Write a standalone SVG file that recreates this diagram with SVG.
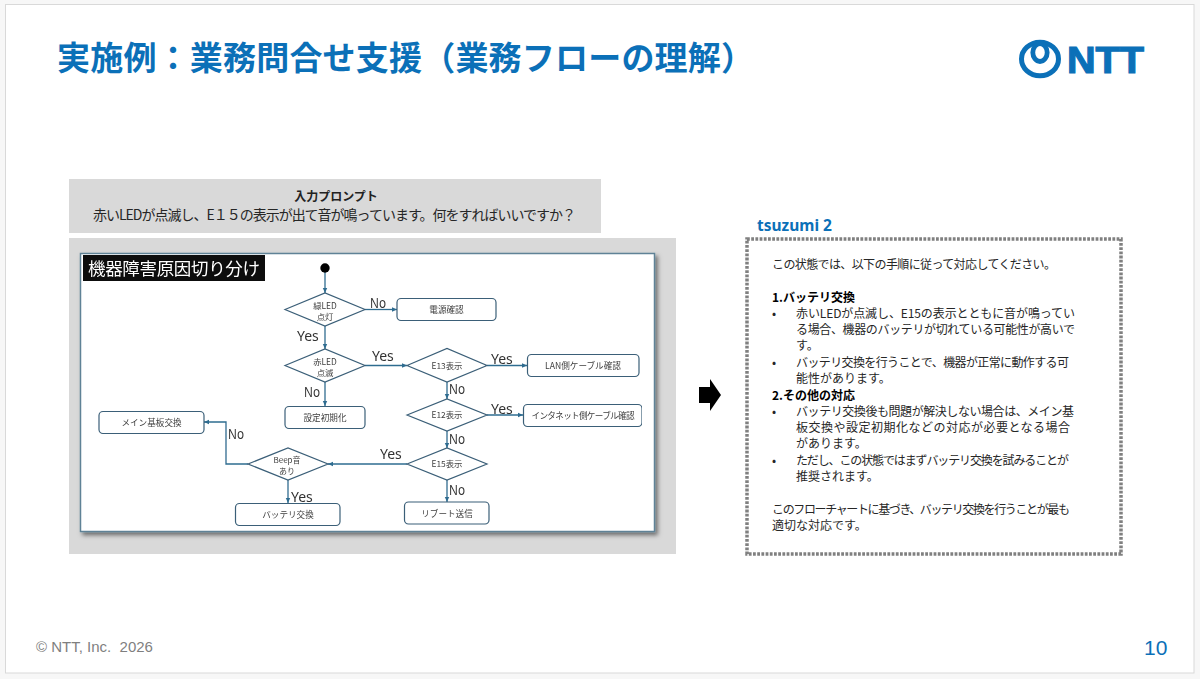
<svg xmlns="http://www.w3.org/2000/svg" width="1200" height="679" viewBox="0 0 1200 679">
<style>
text{font-family:"Noto Sans CJK JP","Noto Sans",sans-serif}
.blue{fill:#0b70b8}
.title{font-size:33px;font-weight:700}
.body{font-size:12px;fill:#262626}
.b{font-weight:700;fill:#000}
.node{fill:#fff;stroke:#3b5f78;stroke-width:1.2}
.nt{font-size:8.6px;fill:#404040;text-anchor:middle}
.dt{font-size:8.4px;fill:#404040;text-anchor:middle}
.lab{font-family:"Noto Sans",sans-serif;font-size:14px;fill:#333}
.con{fill:none;stroke:#2f6c90;stroke-width:1.3;marker-end:url(#ah)}
</style>
<defs>
<marker id="ah" markerUnits="userSpaceOnUse" markerWidth="6" markerHeight="6" refX="5" refY="3" orient="auto"><path d="M0 .8L5 3L0 5.2z" fill="#2f6c90"/></marker>
<filter id="sh" x="-5%" y="-5%" width="110%" height="110%"><feDropShadow dx="2.5" dy="3" stdDeviation="2" flood-color="#000" flood-opacity=".5"/></filter>
<filter id="soft" x="0" y="0" width="100%" height="100%"><feGaussianBlur stdDeviation=".3"/></filter>
</defs>
<rect width="1200" height="679" fill="#f7f7f7"/>
<rect x="5.500" y="4.500" width="1188.500" height="668.500" fill="#fff" stroke="#d9d9d9"/>
<text class="blue title" x="57" y="70" textLength="697">実施例：業務問合せ支援（業務フローの理解）</text>
<g id="logo">
<ellipse cx="1040" cy="59" rx="18.500" ry="16.800" fill="none" stroke="#0b70b8" stroke-width="5"/>
<ellipse cx="1040" cy="52.500" rx="7.200" ry="9" fill="#fff" stroke="#0b70b8" stroke-width="4.800"/>
<text x="1067" y="73" textLength="77" lengthAdjust="spacingAndGlyphs" stroke="#0b70b8" stroke-width="1.200" style="font-family:'Liberation Sans',sans-serif;font-weight:700;font-size:36.500px" class="blue">NTT</text>
</g>
<g id="prompt">
<rect x="69" y="179" width="532" height="54" fill="#d9d9d9"/>
<text x="336" y="200.500" text-anchor="middle" font-size="12" font-weight="700" fill="#222">入力プロンプト</text>
<text x="93" y="219.500" font-size="14" fill="#262626" textLength="483">赤いLEDが点滅し、E１５の表示が出て音が鳴っています。何をすればいいですか？</text>
</g>
<rect id="panel" x="69" y="238" width="607" height="316" fill="#d9d9d9"/>
<rect id="sheet" x="80.500" y="253.500" width="574" height="278" fill="#fff" stroke="#5f8296" stroke-width="1.500" filter="url(#sh)"/>
<g id="flow" filter="url(#soft)">
<g id="sheet-title">
<rect x="83" y="255" width="182" height="26" fill="#0a0a0a"/>
<text x="88" y="275" font-size="17.500" fill="#fff" textLength="172">機器障害原因切り分け</text>
</g>
<g id="connectors">
<path class="con" d="M325 268V293"/>
<path class="con" d="M365 309.500H397"/>
<path class="con" d="M325 326V349"/>
<path class="con" d="M365 365.500H407"/>
<path class="con" d="M325 382V406"/>
<path class="con" d="M487 365.500H527"/>
<path class="con" d="M447 382V399"/>
<path class="con" d="M487 415H523"/>
<path class="con" d="M447 431V448"/>
<path class="con" d="M407 464H328"/>
<path class="con" d="M447 480V502"/>
<path class="con" d="M248 464H226V422H204"/>
<path class="con" d="M288 480V503"/>
</g>
<g id="labels">
<text class="lab" x="370" y="308" textLength="16" lengthAdjust="spacingAndGlyphs">No</text>
<text class="lab" x="297" y="341">Yes</text>
<text class="lab" x="304" y="397" textLength="16" lengthAdjust="spacingAndGlyphs">No</text>
<text class="lab" x="372" y="361">Yes</text>
<text class="lab" x="491" y="364">Yes</text>
<text class="lab" x="449" y="394" textLength="16" lengthAdjust="spacingAndGlyphs">No</text>
<text class="lab" x="491" y="414">Yes</text>
<text class="lab" x="449" y="444" textLength="16" lengthAdjust="spacingAndGlyphs">No</text>
<text class="lab" x="380" y="459">Yes</text>
<text class="lab" x="449" y="495" textLength="16" lengthAdjust="spacingAndGlyphs">No</text>
<text class="lab" x="228" y="439" textLength="16" lengthAdjust="spacingAndGlyphs">No</text>
<text class="lab" x="291" y="502">Yes</text>
</g>
<circle id="start" cx="325" cy="268" r="4.700" fill="#000"/>
<g id="d1"><path class="node" d="M285 309.500L325 293L365 309.500L325 326z"/><text class="dt" x="325" y="309">緑LED</text><text class="dt" x="325" y="319.500">点灯</text></g>
<g id="d2"><path class="node" d="M285 365.500L325 349L365 365.500L325 382z"/><text class="dt" x="325" y="365">赤LED</text><text class="dt" x="325" y="375.500">点滅</text></g>
<g id="d3"><path class="node" d="M407 365.500L447 348.500L487 365.500L447 382z"/><text class="dt" x="447" y="369">E13表示</text></g>
<g id="d4"><path class="node" d="M407 415L447 399L487 415L447 431z"/><text class="dt" x="447" y="418">E12表示</text></g>
<g id="d5"><path class="node" d="M407 464L447 448L487 464L447 480z"/><text class="dt" x="447" y="467">E15表示</text></g>
<g id="d6"><path class="node" d="M248 464L288 448L328 464L288 480z"/><text class="dt" x="287" y="463" font-size="8" style="font-size:8px">Beep音</text><text class="dt" x="287" y="474" style="font-size:8px">あり</text></g>
<g id="n1"><rect class="node" x="397" y="298.500" width="99" height="22" rx="4"/><text class="nt" x="446.500" y="313">電源確認</text></g>
<g id="n2"><rect class="node" x="527.500" y="354.500" width="111.500" height="22" rx="4"/><text class="nt" x="583" y="369">LAN側ケーブル確認</text></g>
<g id="n3"><rect class="node" x="523.500" y="404.500" width="118.500" height="22" rx="4"/><text class="nt" x="583" y="419" textLength="103">インタネット側ケーブル確認</text></g>
<g id="n4"><rect class="node" x="285" y="406.500" width="80" height="22" rx="4"/><text class="nt" x="325" y="421">設定初期化</text></g>
<g id="n5"><rect class="node" x="99" y="411.500" width="105" height="22" rx="4"/><text class="nt" x="151.500" y="426">メイン基板交換</text></g>
<g id="n6"><rect class="node" x="235.500" y="503.500" width="104.500" height="22" rx="4"/><text class="nt" x="288" y="518">バッテリ交換</text></g>
<g id="n7"><rect class="node" x="404.500" y="502" width="84.500" height="22" rx="4"/><text class="nt" x="447" y="517">リブート送信</text></g>
</g>
<path id="arrow" d="M699 387H710V379L721 395L710 411V403H699z" fill="#000"/>
<g id="answer">
<text class="blue" x="757" y="231" font-size="15.500" font-weight="700" style="font-family:'Noto Sans',sans-serif">tsuzumi 2</text>
<rect x="747" y="239" width="374" height="315" fill="none" stroke="#808080" stroke-width="3.500" stroke-dasharray="2.800 1.400"/>
<text class="body" x="772" y="269" textLength="284">この状態では、以下の手順に従って対応してください。</text>
<text class="body b" x="772" y="302">1.バッテリ交換</text>
<text class="body" x="772" y="318">•</text><text class="body" x="796" y="318" textLength="279">赤いLEDが点滅し、E15の表示とともに音が鳴ってい</text>
<text class="body" x="796" y="334" textLength="279">る場合、機器のバッテリが切れている可能性が高いで</text>
<text class="body" x="796" y="350">す。</text>
<text class="body" x="772" y="367">•</text><text class="body" x="796" y="367" textLength="273">バッテリ交換を行うことで、機器が正常に動作する可</text>
<text class="body" x="796" y="383">能性があります。</text>
<text class="body b" x="772" y="400">2.その他の対応</text>
<text class="body" x="772" y="416">•</text><text class="body" x="796" y="416" textLength="278">バッテリ交換後も問題が解決しない場合は、メイン基</text>
<text class="body" x="796" y="432" textLength="274">板交換や設定初期化などの対応が必要となる場合</text>
<text class="body" x="796" y="448">があります。</text>
<text class="body" x="772" y="465">•</text><text class="body" x="796" y="465" textLength="273">ただし、この状態ではまずバッテリ交換を試みることが</text>
<text class="body" x="796" y="481">推奨されます。</text>
<text class="body" x="772" y="514" textLength="298">このフローチャートに基づき、バッテリ交換を行うことが最も</text>
<text class="body" x="772" y="530">適切な対応です。</text>
</g>
<text x="36" y="651.500" font-size="15" fill="#7f7f7f" style="white-space:pre;font-family:'Liberation Sans',sans-serif">© NTT, Inc.  2026</text>
<text class="blue" x="1144" y="654.500" font-size="21" style="font-family:'Liberation Sans',sans-serif">10</text>
</svg>
